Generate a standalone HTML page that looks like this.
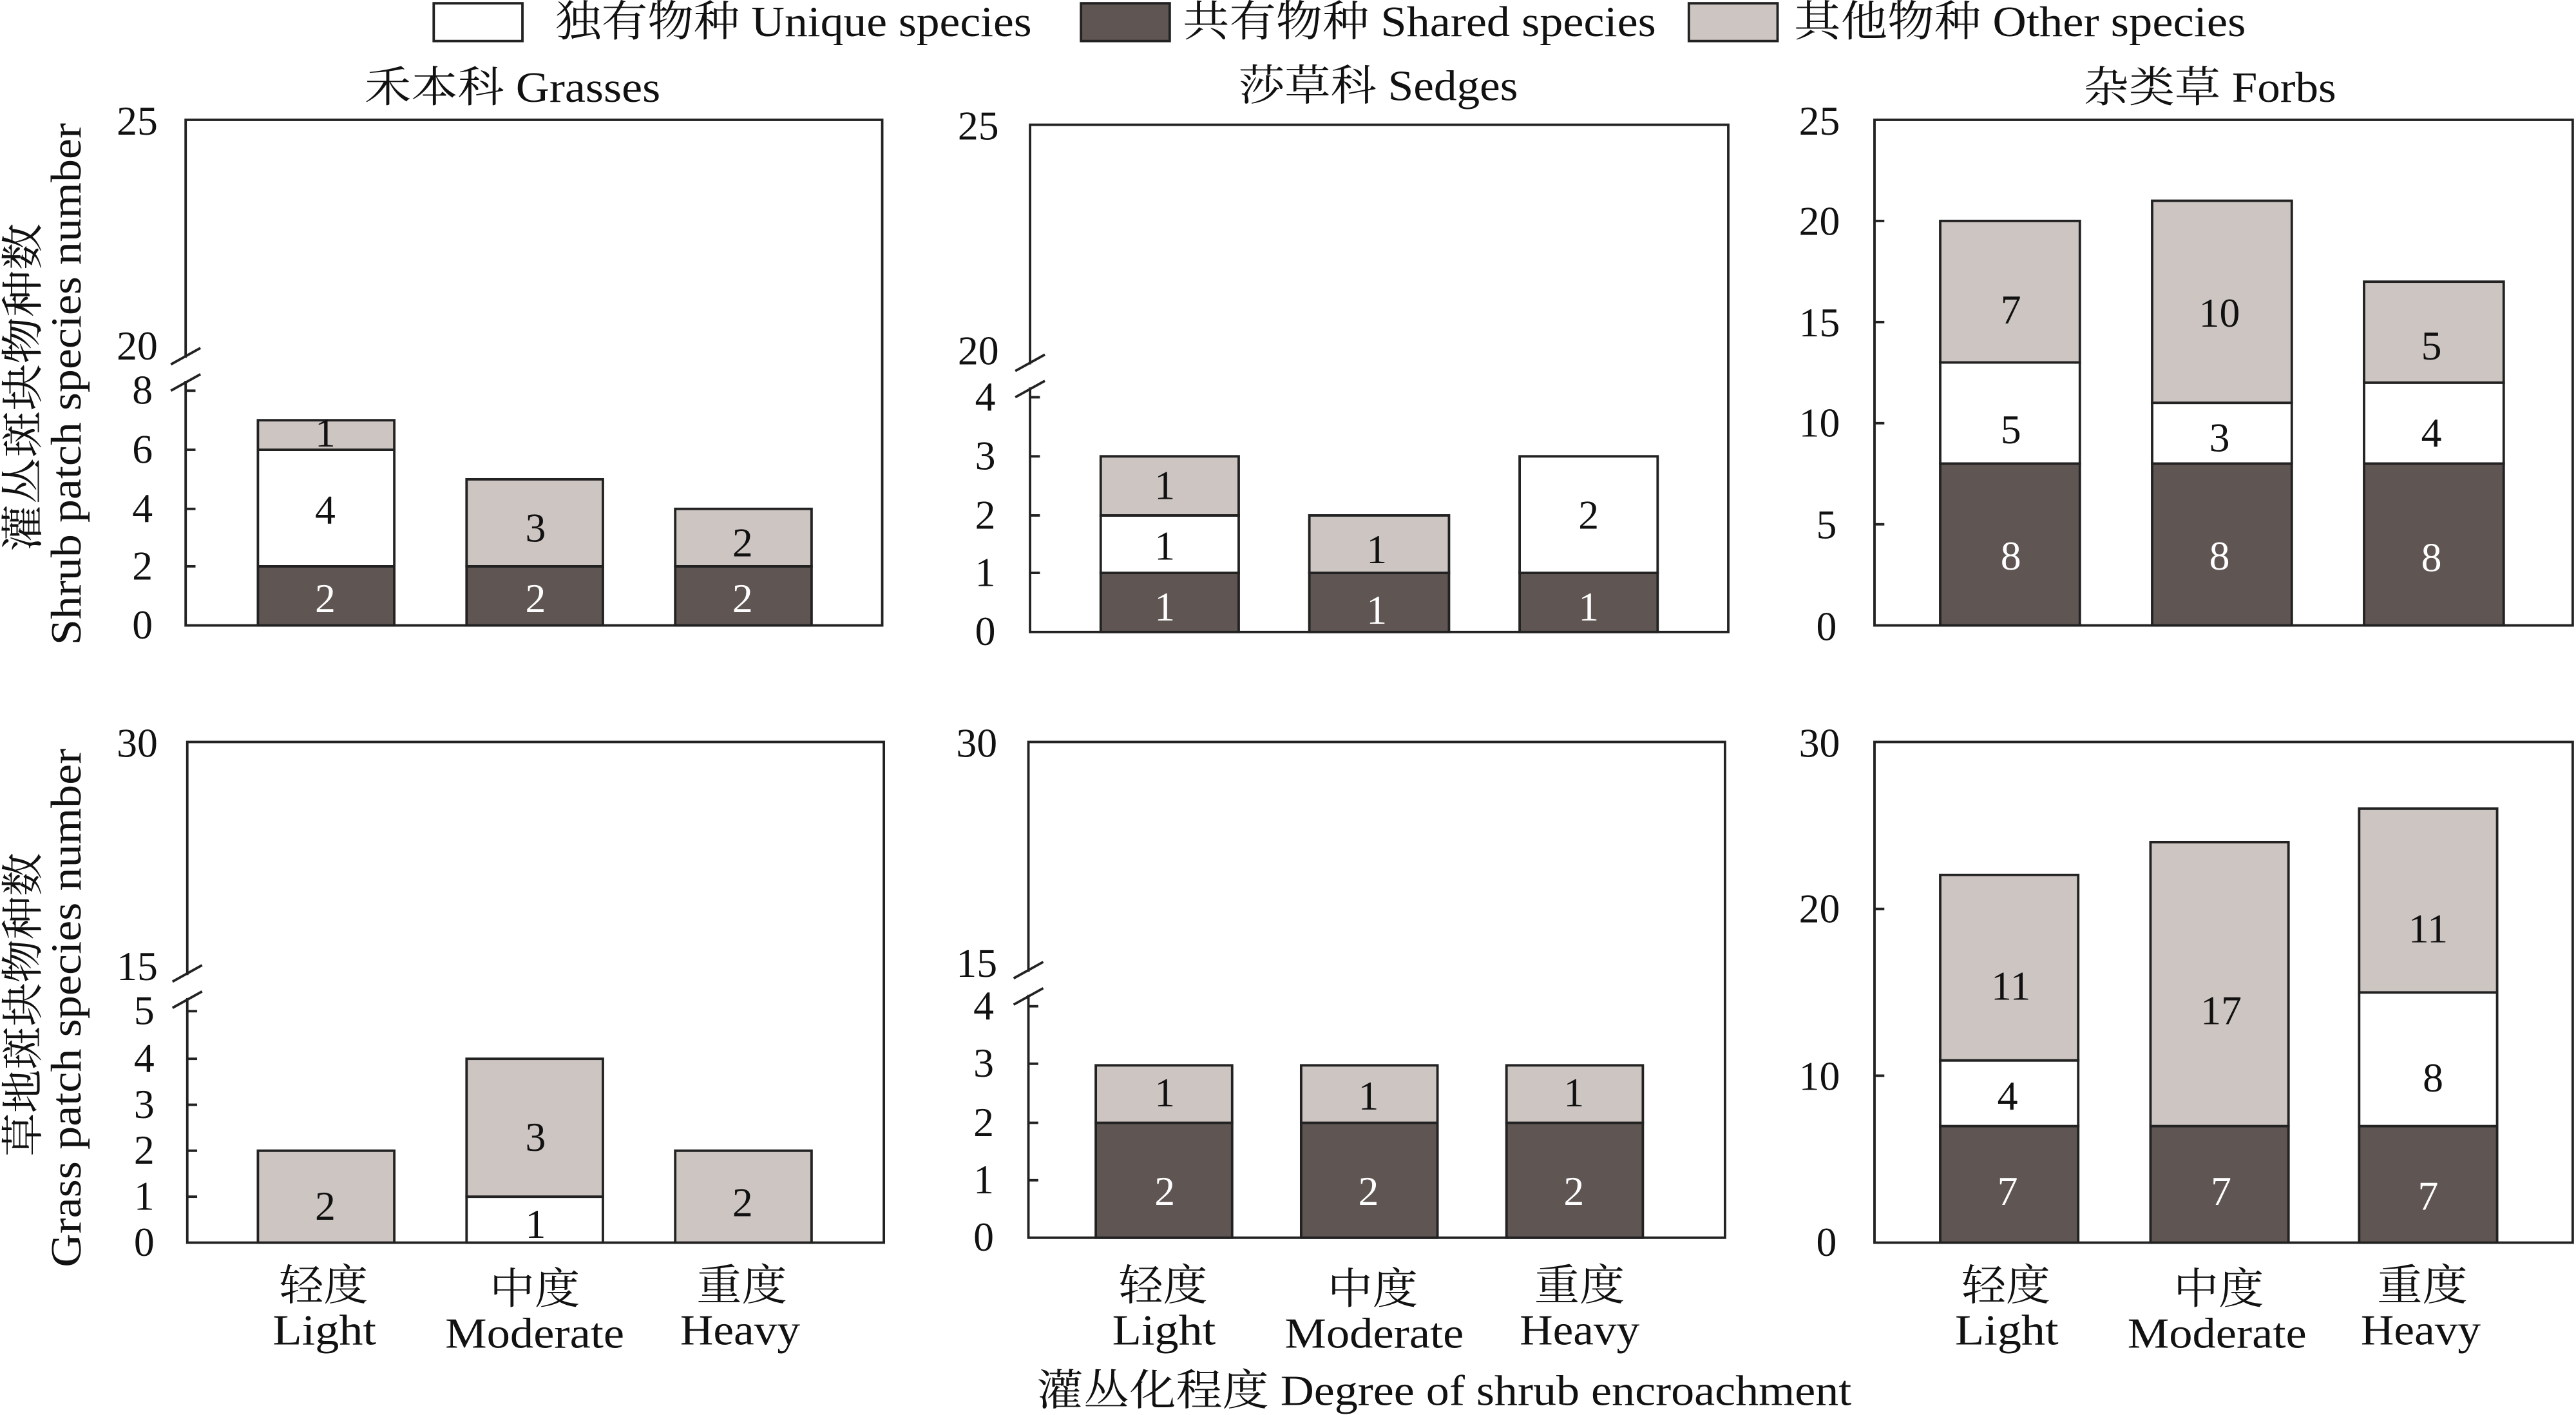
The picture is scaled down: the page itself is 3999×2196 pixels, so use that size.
<!DOCTYPE html>
<html><head><meta charset="utf-8"><style>
html,body{margin:0;padding:0;background:#fff;}
svg{display:block;}
text{font-family:"Liberation Serif","Noto Serif CJK SC","Noto Sans CJK SC",serif;fill:#111;}
</style></head><body>
<svg width="3999" height="2196" viewBox="0 0 1568 862" preserveAspectRatio="none" xmlns="http://www.w3.org/2000/svg">
<g font-size="26" lengthAdjust="spacingAndGlyphs">
<!-- legend -->
<rect x="264" y="2" width="54" height="23" fill="#fff" stroke="#222" stroke-width="1.5"/>
<text x="338" y="22" textLength="290" lengthAdjust="spacingAndGlyphs">独有物种 Unique species</text>
<rect x="658" y="2" width="54" height="23" fill="#5f5552" stroke="#222" stroke-width="1.5"/>
<text x="720" y="22" textLength="288" lengthAdjust="spacingAndGlyphs">共有物种 Shared species</text>
<rect x="1028" y="2" width="54" height="23" fill="#cdc5c2" stroke="#222" stroke-width="1.5"/>
<text x="1092" y="22" textLength="275" lengthAdjust="spacingAndGlyphs">其他物种 Other species</text>

<text x="222" y="62" textLength="180" lengthAdjust="spacingAndGlyphs">禾本科 Grasses</text>
<text x="754" y="61" textLength="170" lengthAdjust="spacingAndGlyphs">莎草科 Sedges</text>
<text x="1268" y="62" textLength="154" lengthAdjust="spacingAndGlyphs">杂类草 Forbs</text>
</g>

<g stroke="#222" stroke-width="1.5">
<rect x="113" y="73" width="424" height="308" fill="none"/>
<rect x="627" y="76" width="425" height="309" fill="none"/>
<rect x="1141" y="73" width="425" height="308" fill="none"/>
<rect x="114" y="452" width="424" height="305" fill="none"/>
<rect x="626" y="452" width="424" height="302" fill="none"/>
<rect x="1141" y="452" width="425" height="305" fill="none"/>
</g>
<g>
<rect x="108" y="218" width="10" height="14" fill="#fff"/>
<rect x="622" y="222" width="10" height="14" fill="#fff"/>
<rect x="109" y="594" width="10" height="14" fill="#fff"/>
<rect x="621" y="592" width="10" height="14" fill="#fff"/>
</g>
<g stroke="#222" stroke-width="1.5">
<line x1="104" y1="222" x2="122" y2="212"/><line x1="104" y1="238" x2="122" y2="228"/>
<line x1="618" y1="226" x2="636" y2="216"/><line x1="618" y1="242" x2="636" y2="232"/>
<line x1="105" y1="598" x2="123" y2="588"/><line x1="105" y1="614" x2="123" y2="604"/>
<line x1="617" y1="596" x2="635" y2="586"/><line x1="617" y1="612" x2="635" y2="602"/>
<line x1="113" y1="238" x2="119" y2="238"/><line x1="113" y1="274" x2="119" y2="274"/><line x1="113" y1="310" x2="119" y2="310"/><line x1="113" y1="345" x2="119" y2="345"/>
<line x1="627" y1="242" x2="633" y2="242"/><line x1="627" y1="278" x2="633" y2="278"/><line x1="627" y1="314" x2="633" y2="314"/><line x1="627" y1="349" x2="633" y2="349"/>
<line x1="1141" y1="134.6" x2="1147" y2="134.6"/><line x1="1141" y1="196.2" x2="1147" y2="196.2"/><line x1="1141" y1="257.8" x2="1147" y2="257.8"/><line x1="1141" y1="319.4" x2="1147" y2="319.4"/>
<line x1="114" y1="616" x2="120" y2="616"/><line x1="114" y1="645" x2="120" y2="645"/><line x1="114" y1="673" x2="120" y2="673"/><line x1="114" y1="701" x2="120" y2="701"/><line x1="114" y1="729" x2="120" y2="729"/>
<line x1="626" y1="613" x2="632" y2="613"/><line x1="626" y1="648" x2="632" y2="648"/><line x1="626" y1="684" x2="632" y2="684"/><line x1="626" y1="719" x2="632" y2="719"/>
<line x1="1141" y1="655.3" x2="1147" y2="655.3"/><line x1="1141" y1="553.7" x2="1147" y2="553.7"/>
</g>

<g stroke="#222" stroke-width="1.5">
<rect x="157" y="345" width="83" height="36" fill="#5f5552"/>
<rect x="157" y="274" width="83" height="71" fill="#fff"/>
<rect x="157" y="256" width="83" height="18" fill="#cdc5c2"/>
<rect x="284" y="345" width="83" height="36" fill="#5f5552"/>
<rect x="284" y="292" width="83" height="53" fill="#cdc5c2"/>
<rect x="411" y="345" width="83" height="36" fill="#5f5552"/>
<rect x="411" y="310" width="83" height="35" fill="#cdc5c2"/>
<rect x="670" y="349" width="84" height="36" fill="#5f5552"/>
<rect x="670" y="314" width="84" height="35" fill="#fff"/>
<rect x="670" y="278" width="84" height="36" fill="#cdc5c2"/>
<rect x="797" y="349" width="85" height="36" fill="#5f5552"/>
<rect x="797" y="314" width="85" height="35" fill="#cdc5c2"/>
<rect x="925" y="349" width="84" height="36" fill="#5f5552"/>
<rect x="925" y="278" width="84" height="71" fill="#fff"/>
<rect x="1181" y="282.4" width="85" height="98.6" fill="#5f5552"/>
<rect x="1181" y="220.8" width="85" height="61.6" fill="#fff"/>
<rect x="1181" y="134.6" width="85" height="86.2" fill="#cdc5c2"/>
<rect x="1310" y="282.4" width="85" height="98.6" fill="#5f5552"/>
<rect x="1310" y="245.4" width="85" height="37" fill="#fff"/>
<rect x="1310" y="122.3" width="85" height="123.1" fill="#cdc5c2"/>
<rect x="1439" y="282.4" width="85" height="98.6" fill="#5f5552"/>
<rect x="1439" y="233.1" width="85" height="49.3" fill="#fff"/>
<rect x="1439" y="171.6" width="85" height="61.5" fill="#cdc5c2"/>
<rect x="157" y="701" width="83" height="56" fill="#cdc5c2"/>
<rect x="284" y="729" width="83" height="28" fill="#fff"/>
<rect x="284" y="645" width="83" height="84" fill="#cdc5c2"/>
<rect x="411" y="701" width="83" height="56" fill="#cdc5c2"/>
<rect x="667" y="684" width="83" height="70" fill="#5f5552"/>
<rect x="667" y="649" width="83" height="35" fill="#cdc5c2"/>
<rect x="792" y="684" width="83" height="70" fill="#5f5552"/>
<rect x="792" y="649" width="83" height="35" fill="#cdc5c2"/>
<rect x="917" y="684" width="83" height="70" fill="#5f5552"/>
<rect x="917" y="649" width="83" height="35" fill="#cdc5c2"/>
<rect x="1181" y="686" width="84" height="71" fill="#5f5552"/>
<rect x="1181" y="646" width="84" height="40" fill="#fff"/>
<rect x="1181" y="533" width="84" height="113" fill="#cdc5c2"/>
<rect x="1309" y="686" width="84" height="71" fill="#5f5552"/>
<rect x="1309" y="513" width="84" height="173" fill="#cdc5c2"/>
<rect x="1436" y="686" width="84" height="71" fill="#5f5552"/>
<rect x="1436" y="604.5" width="84" height="81.5" fill="#fff"/>
<rect x="1436" y="492.6" width="84" height="112" fill="#cdc5c2"/>
</g>

<g font-size="25" text-anchor="middle">
<text x="198" y="373" style="fill:#fff">2</text><text x="198" y="319">4</text><text x="198" y="272">1</text>
<text x="326" y="373" style="fill:#fff">2</text><text x="326" y="330">3</text>
<text x="452" y="373" style="fill:#fff">2</text><text x="452" y="339">2</text>
<text x="709" y="378" style="fill:#fff">1</text><text x="709" y="341">1</text><text x="709" y="304">1</text>
<text x="838" y="380" style="fill:#fff">1</text><text x="838" y="343">1</text>
<text x="967" y="378" style="fill:#fff">1</text><text x="967" y="322">2</text>
<text x="1224" y="347" style="fill:#fff">8</text><text x="1224" y="270">5</text><text x="1224" y="197">7</text>
<text x="1351" y="347" style="fill:#fff">8</text><text x="1351" y="275">3</text><text x="1351" y="199">10</text>
<text x="1480" y="348" style="fill:#fff">8</text><text x="1480" y="272">4</text><text x="1480" y="219">5</text>
<text x="198" y="743">2</text>
<text x="326" y="754">1</text><text x="326" y="701">3</text>
<text x="452" y="741">2</text>
<text x="709" y="734" style="fill:#fff">2</text><text x="709" y="674">1</text>
<text x="833" y="734" style="fill:#fff">2</text><text x="833" y="676">1</text>
<text x="958" y="734" style="fill:#fff">2</text><text x="958" y="674">1</text>
<text x="1222" y="734" style="fill:#fff">7</text><text x="1222" y="676">4</text><text x="1224" y="609">11</text>
<text x="1352" y="734" style="fill:#fff">7</text><text x="1352" y="624">17</text>
<text x="1478" y="737" style="fill:#fff">7</text><text x="1481" y="665">8</text><text x="1478" y="574">11</text>
</g>

<g font-size="25" text-anchor="end">
<text x="96" y="82">25</text><text x="96" y="219">20</text>
<text x="93" y="246">8</text><text x="93" y="282">6</text><text x="93" y="318">4</text><text x="93" y="353">2</text><text x="93" y="389">0</text>
<text x="608" y="85">25</text><text x="608" y="222">20</text>
<text x="606" y="250">4</text><text x="606" y="286">3</text><text x="606" y="322">2</text><text x="606" y="357">1</text><text x="606" y="393">0</text>
<text x="1120" y="82">25</text><text x="1120" y="143">20</text><text x="1120" y="205">15</text><text x="1120" y="266">10</text><text x="1118" y="328">5</text><text x="1118" y="390">0</text>
<text x="96" y="461">30</text><text x="96" y="597">15</text>
<text x="94" y="624">5</text><text x="94" y="653">4</text><text x="94" y="681">3</text><text x="94" y="709">2</text><text x="94" y="737">1</text><text x="94" y="765">0</text>
<text x="607" y="461">30</text><text x="607" y="595">15</text>
<text x="605" y="621">4</text><text x="605" y="656">3</text><text x="605" y="692">2</text><text x="605" y="727">1</text><text x="605" y="762">0</text>
<text x="1120" y="461">30</text><text x="1120" y="562">20</text><text x="1120" y="664">10</text><text x="1118" y="765">0</text>
</g>

<g font-size="26">
<text x="170" y="792" textLength="54" lengthAdjust="spacingAndGlyphs">轻度</text><text x="166" y="819" textLength="63" lengthAdjust="spacingAndGlyphs">Light</text>
<text x="298" y="794" textLength="55" lengthAdjust="spacingAndGlyphs">中度</text><text x="271" y="821" textLength="109" lengthAdjust="spacingAndGlyphs">Moderate</text>
<text x="424" y="792" textLength="55" lengthAdjust="spacingAndGlyphs">重度</text><text x="414" y="819" textLength="73" lengthAdjust="spacingAndGlyphs">Heavy</text>
<text x="681" y="792" textLength="54" lengthAdjust="spacingAndGlyphs">轻度</text><text x="677" y="819" textLength="63" lengthAdjust="spacingAndGlyphs">Light</text>
<text x="808" y="794" textLength="55" lengthAdjust="spacingAndGlyphs">中度</text><text x="782" y="821" textLength="109" lengthAdjust="spacingAndGlyphs">Moderate</text>
<text x="934" y="792" textLength="55" lengthAdjust="spacingAndGlyphs">重度</text><text x="925" y="819" textLength="73" lengthAdjust="spacingAndGlyphs">Heavy</text>
<text x="1194" y="792" textLength="54" lengthAdjust="spacingAndGlyphs">轻度</text><text x="1190" y="819" textLength="63" lengthAdjust="spacingAndGlyphs">Light</text>
<text x="1323" y="794" textLength="55" lengthAdjust="spacingAndGlyphs">中度</text><text x="1295" y="821" textLength="109" lengthAdjust="spacingAndGlyphs">Moderate</text>
<text x="1447" y="792" textLength="55" lengthAdjust="spacingAndGlyphs">重度</text><text x="1437" y="819" textLength="73" lengthAdjust="spacingAndGlyphs">Heavy</text>
<text x="631" y="856" textLength="496" lengthAdjust="spacingAndGlyphs">灌丛化程度 Degree of shrub encroachment</text>
</g>

<g font-size="26" text-anchor="middle">
<text transform="translate(23,236) rotate(-90)" textLength="200" lengthAdjust="spacingAndGlyphs">灌丛斑块物种数</text>
<text transform="translate(49,234) rotate(-90)" textLength="318" lengthAdjust="spacingAndGlyphs">Shrub patch species number</text>
<text transform="translate(23,612) rotate(-90)" textLength="185" lengthAdjust="spacingAndGlyphs">草地斑块物种数</text>
<text transform="translate(49,614) rotate(-90)" textLength="316" lengthAdjust="spacingAndGlyphs">Grass patch species number</text>
</g>
</svg>
</body></html>
